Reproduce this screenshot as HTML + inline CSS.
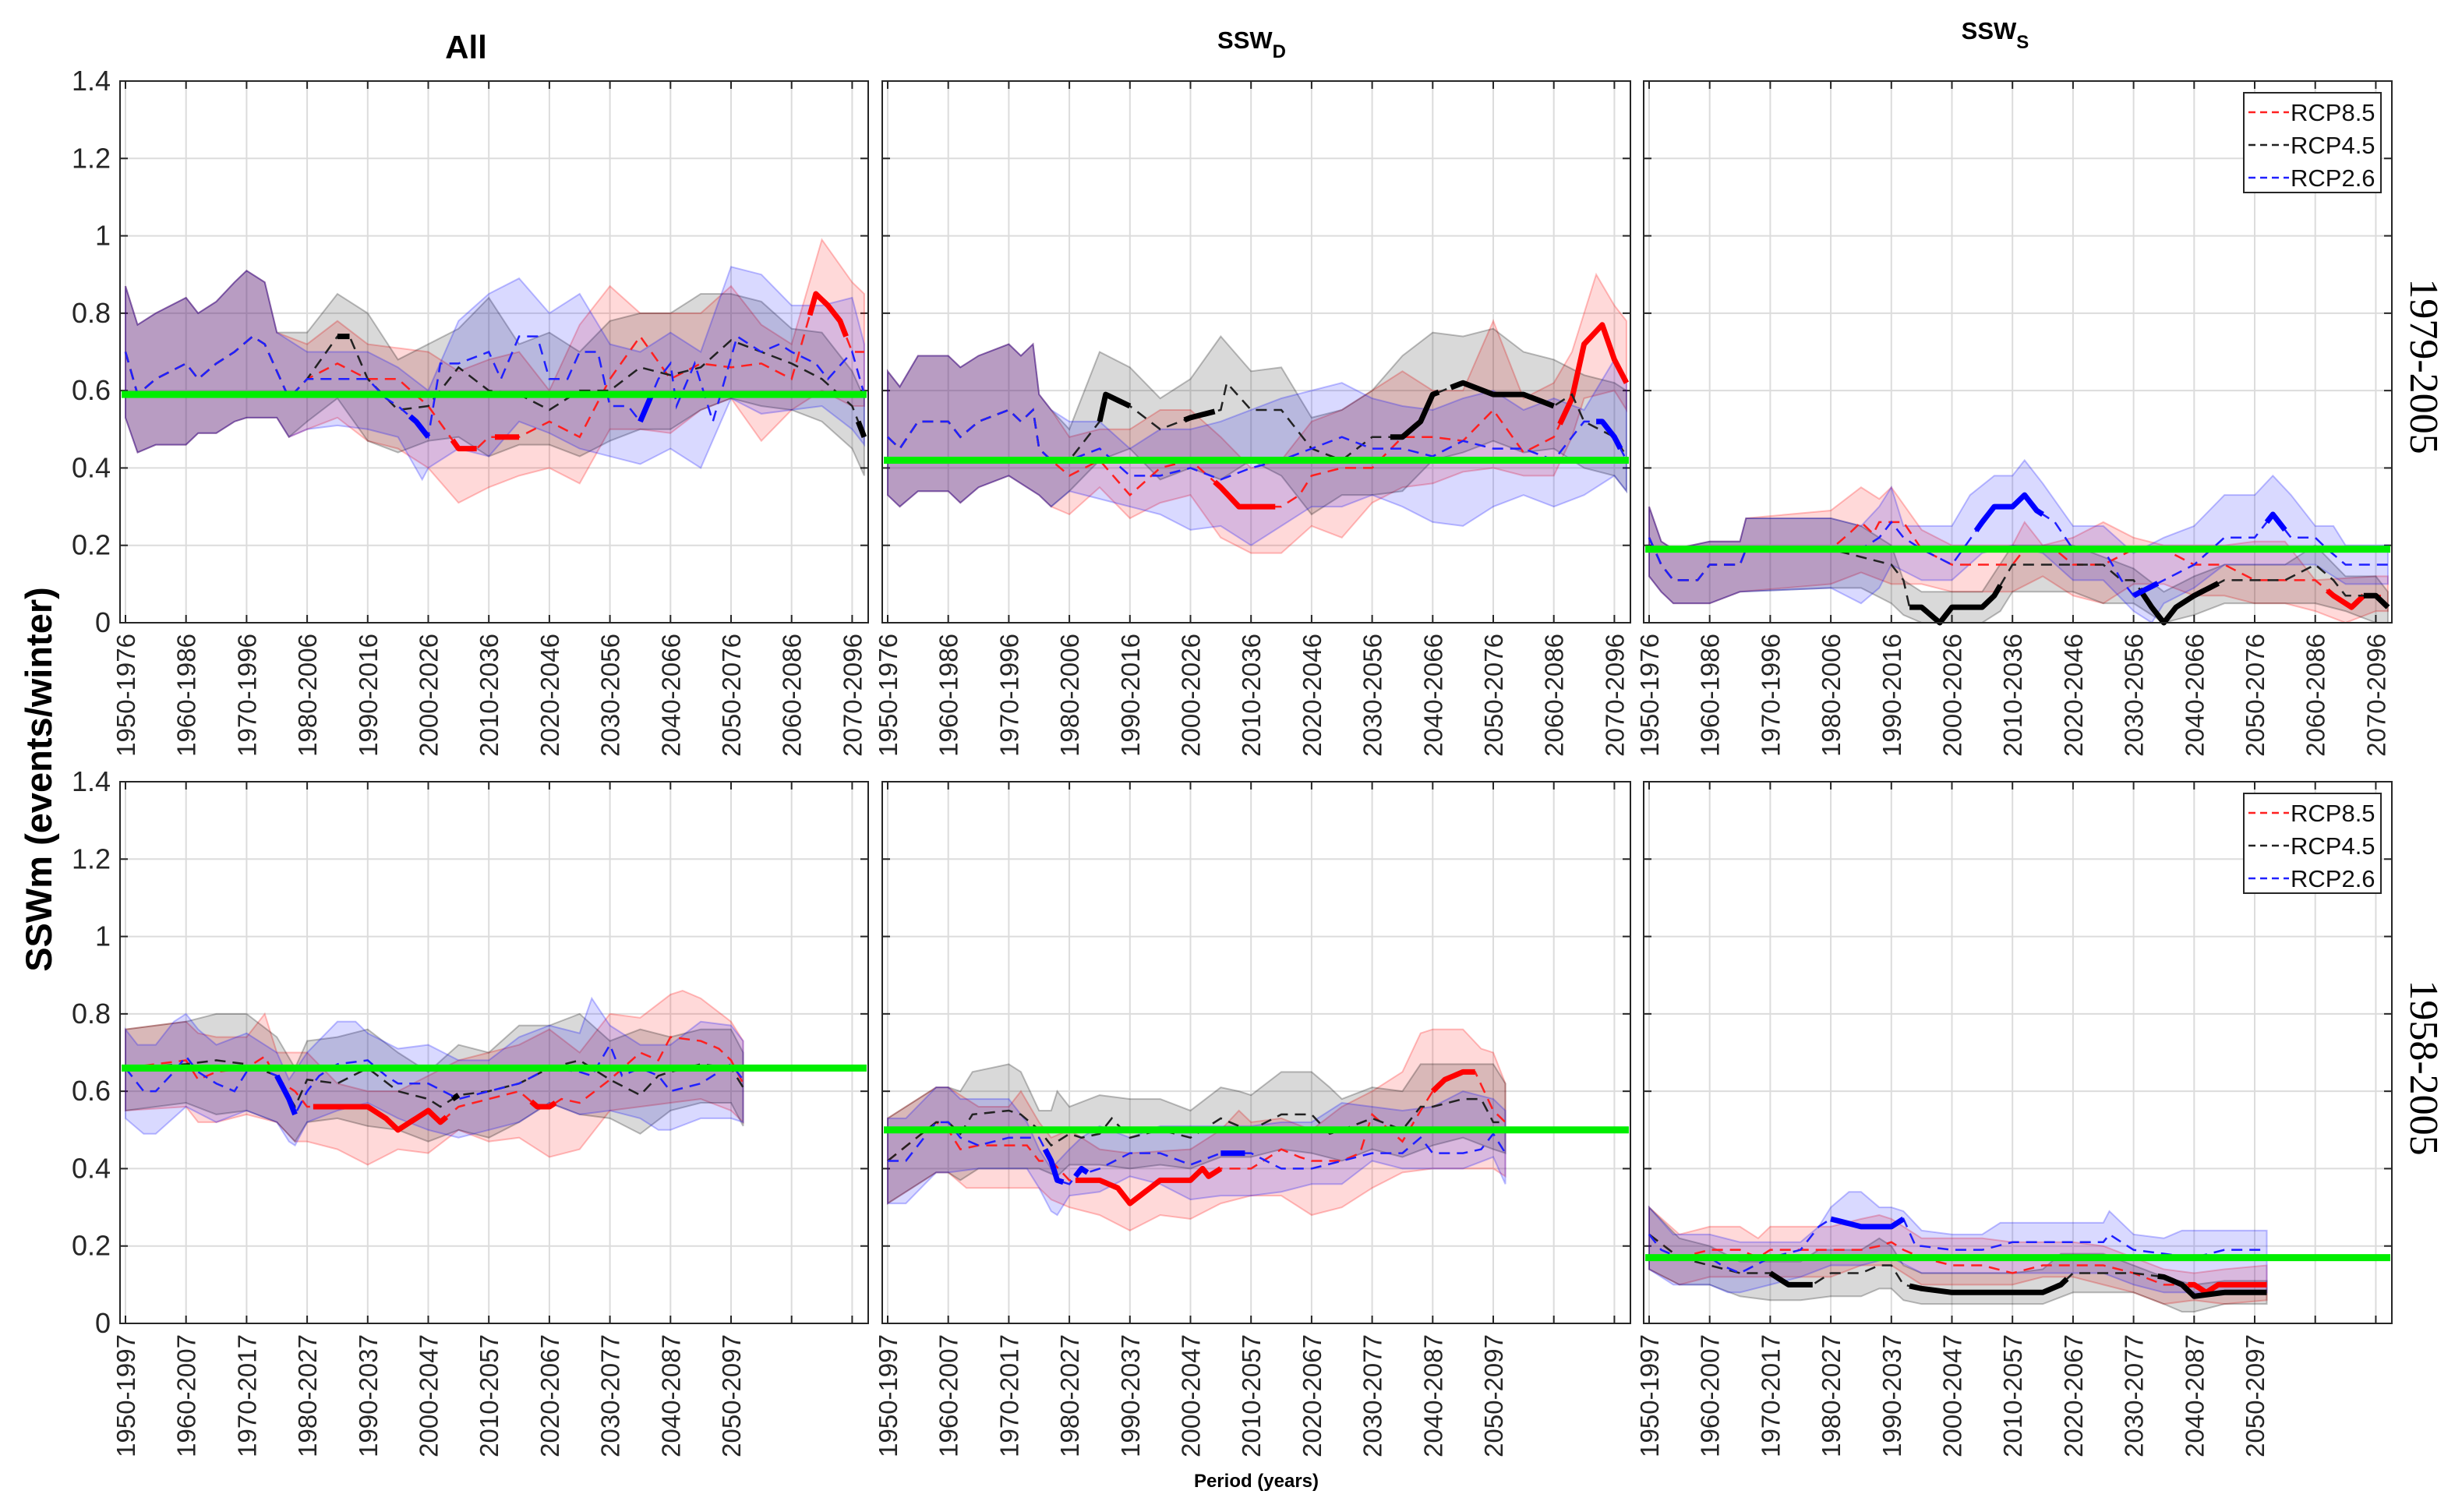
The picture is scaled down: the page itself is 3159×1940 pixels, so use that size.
<!DOCTYPE html>
<html><head><meta charset="utf-8"><style>
html,body{margin:0;padding:0;background:#fff;}
svg{display:block;font-family:"Liberation Sans",Arial,sans-serif;}
</style></head><body>
<svg id="chart" width="3159" height="1940" viewBox="0 0 3159 1940" xmlns="http://www.w3.org/2000/svg">
<rect width="3159" height="1940" fill="#fff"/>
<g id="layer"></g>
<text x="598" y="75" font-size="42" font-weight="bold" text-anchor="middle">All</text>
<text x="1606" y="62" font-size="31" font-weight="bold" text-anchor="middle">SSW<tspan font-size="24" dy="12">D</tspan></text>
<text x="2560" y="50" font-size="31" font-weight="bold" text-anchor="middle">SSW<tspan font-size="24" dy="12">S</tspan></text>
<text transform="translate(66,1000) rotate(-90)" font-size="47" font-weight="bold" text-anchor="middle">SSWm (events/winter)</text>
<text transform="translate(3093,470) rotate(90)" font-size="52" font-family="'Liberation Serif',serif" text-anchor="middle">1979-2005</text>
<text transform="translate(3093,1370) rotate(90)" font-size="52" font-family="'Liberation Serif',serif" text-anchor="middle">1958-2005</text>
<text x="1612" y="1908" font-size="24" font-weight="bold" text-anchor="middle">Period (years)</text>
</svg>
<script>
// ---- tick labels ----
const yTicks = [0,0.2,0.4,0.6,0.8,1,1.2,1.4];
const yTickLabels = ["0","0.2","0.4","0.6","0.8","1","1.2","1.4"];
const xTickIdx = [0,10,20,30,40,50,60,70,80,90,100,110,120];
const xTickLabelsTop = ["1950-1976","1960-1986","1970-1996","1980-2006","1990-2016","2000-2026","2010-2036","2020-2046","2030-2056","2040-2066","2050-2076","2060-2086","2070-2096"];
const xTickLabelsBottom = ["1950-1997","1960-2007","1970-2017","1980-2027","1990-2037","2000-2047","2010-2057","2020-2067","2030-2077","2040-2087","2050-2097"];
const refValues = [0.59,0.42,0.19,0.66,0.50,0.17];

// ---- Panel 1 (All, 1979-2005) ----
const allTopBlueMean=[[0,.70],[2,.59],[5,.63],[10,.67],[12,.63],[15,.67],[18,.70],[21,.74],[23,.72],[25,.65],[27,.58],[30,.63],[35,.63],[40,.63],[43,.58],[45,.56],[48,.52],[50,.48],[52,.67],[55,.67],[60,.70],[62,.63],[65,.74],[68,.74],[70,.63],[73,.63],[75,.70],[78,.70],[80,.56],[83,.56],[85,.52],[88,.63],[90,.67],[91,.56],[94,.67],[97,.52],[99,.63],[101,.74],[105,.70],[108,.72],[110,.70],[114,.67],[116,.63],[120,.70],[122,.59]];
const allTopBlueLo=[[0,.53],[2,.44],[5,.46],[10,.46],[12,.49],[15,.49],[18,.52],[20,.53],[25,.53],[27,.48],[30,.50],[35,.51],[40,.50],[45,.48],[49,.37],[50,.40],[55,.45],[60,.43],[65,.52],[70,.49],[75,.45],[80,.43],[85,.41],[90,.45],[95,.40],[100,.58],[105,.54],[110,.55],[115,.56],[120,.50],[122,.46]];
const allTopBlueHi=[[0,.87],[2,.77],[5,.80],[10,.84],[12,.80],[15,.83],[18,.88],[20,.91],[23,.88],[25,.75],[30,.70],[35,.70],[40,.70],[45,.66],[50,.60],[55,.78],[60,.85],[65,.89],[70,.80],[75,.85],[80,.72],[85,.70],[90,.75],[95,.70],[100,.92],[105,.90],[110,.82],[115,.82],[120,.84],[122,.72]];
const allTopRedMean=[[30,.63],[35,.67],[40,.63],[45,.63],[50,.56],[55,.45],[58,.45],[60,.48],[62,.48],[65,.48],[70,.52],[75,.48],[80,.63],[85,.74],[90,.63],[95,.67],[100,.66],[105,.67],[110,.63],[114,.85],[116,.82],[118,.78],[120,.70],[122,.70]];
const allTopRedLo=[[30,.50],[35,.53],[40,.47],[45,.45],[50,.40],[55,.31],[60,.35],[65,.38],[70,.40],[75,.36],[80,.50],[85,.50],[90,.49],[95,.55],[100,.58],[105,.47],[110,.55],[115,.60],[120,.56],[122,.56]];
const allTopRedHi=[[30,.72],[35,.78],[40,.72],[45,.71],[50,.70],[55,.65],[60,.68],[65,.70],[70,.60],[75,.77],[80,.87],[85,.80],[90,.80],[95,.80],[100,.87],[105,.77],[110,.72],[115,.99],[120,.88],[122,.85]];
const allTopBlackMean=[[30,.63],[35,.74],[37,.74],[40,.63],[45,.55],[50,.56],[55,.66],[60,.60],[65,.59],[70,.55],[75,.60],[80,.60],[85,.66],[90,.64],[95,.66],[100,.73],[105,.70],[110,.67],[115,.63],[120,.56],[122,.48]];
const allTopBlackLo=[[30,.52],[35,.58],[40,.47],[45,.44],[50,.47],[55,.48],[60,.43],[65,.46],[70,.46],[75,.43],[80,.47],[85,.50],[90,.50],[95,.55],[100,.58],[105,.56],[110,.55],[115,.52],[120,.45],[122,.38]];
const allTopBlackHi=[[30,.75],[35,.85],[40,.80],[45,.68],[50,.72],[55,.76],[60,.84],[65,.72],[70,.75],[75,.70],[80,.78],[85,.80],[90,.80],[95,.85],[100,.85],[105,.83],[110,.76],[115,.75],[120,.65],[122,.58]];
const allTopSigBlue=[[47,50],[85,87]], allTopSigRed=[[54,58],[61,65],[113,119]], allTopSigBlack=[[35,37],[121,122]];

// ---- Panel 2 (SSW_D, 1979-2005) ----
const dTopBlueMean=[[0,.48],[2,.45],[5,.52],[10,.52],[12,.48],[15,.52],[20,.55],[22,.52],[24,.55],[25,.45],[27,.42],[30,.42],[35,.45],[40,.38],[45,.38],[50,.40],[55,.37],[60,.40],[65,.42],[70,.45],[75,.48],[80,.45],[85,.45],[90,.43],[95,.47],[100,.45],[105,.45],[110,.42],[115,.52],[118,.52],[120,.48],[122,.42]];
const dTopBlueLo=[[0,.33],[2,.30],[5,.34],[10,.34],[12,.31],[15,.35],[20,.38],[25,.33],[27,.30],[30,.34],[35,.32],[40,.30],[45,.28],[50,.24],[55,.25],[60,.20],[65,.25],[70,.30],[75,.30],[80,.33],[85,.30],[90,.26],[95,.25],[100,.30],[105,.33],[110,.30],[115,.33],[120,.38],[122,.34]];
const dTopBlueHi=[[0,.65],[2,.61],[5,.69],[10,.69],[12,.66],[15,.69],[20,.72],[22,.69],[24,.72],[25,.59],[27,.55],[30,.52],[35,.52],[40,.45],[45,.50],[50,.50],[55,.52],[60,.55],[65,.58],[70,.60],[75,.62],[80,.58],[85,.56],[90,.55],[95,.58],[100,.60],[105,.55],[110,.58],[115,.55],[120,.68],[122,.62]];
const dTopRedMean=[[30,.38],[35,.42],[40,.33],[45,.40],[50,.42],[55,.35],[58,.30],[60,.30],[65,.30],[68,.33],[70,.38],[75,.40],[80,.40],[85,.48],[90,.48],[95,.47],[100,.55],[105,.44],[110,.48],[113,.58],[115,.72],[118,.77],[120,.68],[122,.62]];
const dTopRedLo=[[30,.28],[35,.35],[40,.27],[45,.31],[50,.33],[55,.22],[60,.18],[65,.18],[70,.25],[75,.22],[80,.31],[85,.35],[90,.36],[95,.39],[100,.40],[105,.38],[110,.38],[113,.48],[115,.58],[120,.60],[122,.55]];
const dTopRedHi=[[30,.48],[35,.50],[40,.50],[45,.55],[50,.55],[55,.48],[60,.40],[65,.42],[70,.52],[75,.55],[80,.60],[85,.65],[90,.60],[95,.60],[100,.78],[105,.58],[110,.62],[113,.70],[117,.90],[120,.82],[122,.78]];
const dTopBlackMean=[[30,.42],[35,.52],[36,.59],[40,.56],[45,.50],[50,.53],[55,.55],[56,.62],[60,.55],[65,.55],[70,.45],[75,.42],[80,.48],[85,.48],[88,.52],[90,.59],[95,.62],[100,.59],[105,.59],[110,.56],[113,.59],[115,.52],[120,.48],[122,.43]];
const dTopBlackLo=[[30,.34],[35,.42],[40,.45],[45,.37],[50,.40],[55,.37],[60,.42],[65,.38],[70,.28],[75,.33],[80,.33],[85,.34],[90,.42],[95,.44],[100,.47],[105,.44],[110,.45],[115,.40],[120,.38],[122,.34]];
const dTopBlackHi=[[30,.50],[35,.70],[40,.66],[45,.58],[50,.63],[55,.74],[60,.65],[65,.66],[70,.53],[75,.55],[80,.60],[85,.69],[90,.75],[95,.74],[100,.76],[105,.70],[110,.68],[115,.64],[120,.62],[122,.60]];
const dTopSigBlue=[[117,121]], dTopSigRed=[[54,64],[111,122]], dTopSigBlack=[[35,40],[49,54],[83,91],[93,110]];

// ---- Panel 3 (SSW_S, 1979-2005) ----
const sTopBlueMean=[[0,.22],[2,.15],[4,.11],[8,.11],[10,.15],[15,.15],[16,.19],[20,.19],[30,.19],[35,.19],[38,.22],[40,.26],[42,.22],[45,.19],[50,.15],[55,.26],[57,.30],[60,.30],[62,.33],[64,.29],[67,.26],[70,.19],[75,.19],[78,.11],[80,.07],[85,.11],[90,.15],[95,.22],[100,.22],[103,.28],[106,.22],[110,.22],[112,.19],[115,.15],[120,.15],[122,.15]];
const sTopBlueLo=[[0,.12],[2,.08],[4,.05],[10,.05],[15,.08],[30,.09],[35,.05],[38,.09],[40,.15],[45,.11],[50,.11],[55,.18],[60,.20],[65,.18],[70,.11],[75,.11],[80,.03],[83,0],[85,.05],[90,.09],[95,.15],[100,.15],[105,.15],[110,.15],[115,.10],[120,.10],[122,.10]];
const sTopBlueHi=[[0,.30],[2,.21],[4,.19],[10,.21],[15,.21],[16,.27],[30,.27],[35,.25],[38,.30],[40,.35],[42,.25],[45,.25],[50,.25],[53,.33],[57,.38],[60,.38],[62,.42],[65,.36],[70,.25],[75,.25],[80,.18],[85,.22],[90,.25],[95,.33],[100,.33],[103,.38],[106,.33],[110,.25],[113,.25],[115,.20],[120,.20],[122,.20]];
const sTopRedMean=[[30,.19],[33,.23],[35,.26],[37,.23],[38,.26],[42,.26],[45,.19],[50,.15],[60,.15],[62,.19],[67,.19],[70,.15],[75,.15],[80,.19],[85,.19],[90,.15],[95,.15],[100,.11],[110,.11],[113,.07],[116,.04],[118,.07],[122,.07]];
const sTopRedLo=[[30,.10],[35,.13],[40,.10],[45,.10],[50,.08],[60,.08],[65,.12],[70,.07],[75,.05],[80,.10],[85,.10],[90,.07],[95,.07],[100,.05],[105,.05],[110,.03],[115,0],[120,.03],[122,.03]];
const sTopRedHi=[[30,.29],[35,.35],[38,.32],[40,.35],[45,.24],[50,.20],[60,.20],[62,.26],[65,.20],[70,.22],[75,.26],[80,.22],[85,.20],[95,.20],[100,.21],[105,.21],[110,.11],[120,.12],[122,.12]];
const sTopBlackMean=[[30,.19],[35,.17],[40,.15],[42,.11],[43,.04],[45,.04],[48,0],[50,.04],[55,.04],[57,.07],[60,.15],[75,.15],[78,.11],[80,.11],[83,.04],[85,0],[87,.04],[90,.07],[95,.11],[105,.11],[110,.15],[113,.11],[115,.07],[120,.07],[122,.04]];
const sTopBlackLo=[[30,.09],[35,.09],[40,.05],[42,.02],[45,0],[55,0],[58,.03],[60,.08],[70,.08],[75,.05],[80,.05],[85,0],[90,.02],[95,.05],[110,.05],[115,.03],[120,0],[122,0]];
const sTopBlackHi=[[30,.27],[35,.25],[40,.20],[42,.11],[45,.08],[55,.08],[60,.20],[70,.20],[75,.17],[80,.14],[85,.08],[90,.12],[95,.15],[105,.15],[110,.20],[115,.12],[120,.12],[122,.08]];
const sTopSigBlue=[[54,65],[80,84],[102,105]], sTopSigRed=[[112,118]], sTopSigBlack=[[43,58],[81,94],[118,122]];

// ---- Panel 4 (All, 1958-2005) ----
const allBotBlueMean=[[0,.66],[3,.60],[5,.60],[8,.65],[10,.69],[12,.65],[15,.62],[18,.60],[20,.65],[22,.66],[25,.64],[27,.58],[28,.54],[30,.60],[32,.64],[35,.67],[40,.68],[43,.64],[45,.62],[50,.62],[55,.58],[60,.60],[65,.62],[70,.66],[75,.65],[77,.64],[80,.72],[82,.64],[85,.66],[88,.64],[90,.60],[95,.62],[100,.67],[102,.63]];
const allBotBlueLo=[[0,.53],[3,.49],[5,.49],[10,.56],[15,.52],[20,.55],[25,.52],[27,.47],[28,.46],[30,.52],[35,.55],[40,.57],[45,.53],[50,.50],[55,.48],[60,.50],[65,.52],[70,.57],[75,.54],[80,.55],[85,.53],[88,.50],[90,.50],[95,.53],[100,.53],[102,.52]];
const allBotBlueHi=[[0,.76],[2,.72],[5,.72],[8,.78],[10,.80],[12,.76],[15,.72],[20,.75],[25,.70],[27,.63],[30,.70],[35,.78],[38,.78],[40,.75],[45,.71],[50,.72],[55,.68],[60,.68],[65,.74],[70,.77],[75,.75],[77,.84],[80,.77],[85,.72],[90,.72],[95,.78],[100,.77],[102,.73]];
const allBotRedMean=[[0,.66],[10,.68],[12,.63],[15,.65],[20,.66],[23,.69],[25,.63],[28,.60],[30,.56],[35,.56],[40,.56],[43,.53],[45,.50],[50,.55],[52,.52],[55,.56],[60,.58],[65,.60],[68,.56],[70,.56],[72,.58],[75,.57],[80,.63],[85,.70],[88,.68],[90,.74],[95,.73],[98,.71],[100,.68],[102,.62]];
const allBotRedLo=[[0,.55],[10,.56],[12,.52],[15,.52],[20,.54],[25,.52],[28,.47],[30,.47],[35,.45],[40,.41],[45,.45],[50,.44],[55,.50],[60,.47],[65,.48],[70,.43],[75,.45],[80,.55],[85,.56],[90,.57],[95,.58],[100,.55],[102,.52]];
const allBotRedHi=[[0,.76],[10,.78],[12,.75],[15,.74],[20,.74],[23,.80],[25,.70],[30,.70],[35,.62],[40,.60],[45,.60],[50,.64],[55,.68],[60,.70],[65,.72],[70,.76],[75,.70],[80,.80],[85,.79],[90,.85],[92,.86],[95,.84],[100,.78],[102,.73]];
const allBotBlackMean=[[0,.66],[10,.67],[15,.68],[20,.67],[25,.64],[28,.56],[30,.63],[35,.62],[40,.66],[45,.60],[50,.58],[52,.56],[55,.59],[60,.60],[65,.62],[70,.66],[75,.68],[80,.63],[85,.59],[88,.64],[90,.65],[95,.67],[100,.66],[102,.61]];
const allBotBlackLo=[[0,.55],[10,.57],[15,.54],[20,.55],[25,.52],[28,.47],[30,.52],[35,.53],[40,.51],[45,.50],[50,.47],[55,.50],[60,.48],[65,.52],[70,.57],[75,.54],[80,.53],[85,.49],[90,.55],[95,.57],[100,.57],[102,.51]];
const allBotBlackHi=[[0,.76],[10,.78],[15,.80],[20,.80],[25,.74],[28,.66],[30,.73],[35,.74],[40,.76],[45,.70],[50,.65],[55,.72],[60,.70],[65,.77],[70,.77],[75,.80],[80,.73],[85,.76],[90,.74],[95,.76],[100,.76],[102,.70]];
const allBotSigBlue=[[25,28]], allBotSigRed=[[31,53],[67,71]], allBotSigBlack=[[54,55]];

// ---- Panel 5 (SSW_D, 1958-2005) ----
const dBotBlueMean=[[0,.42],[3,.42],[8,.52],[10,.52],[12,.48],[15,.46],[20,.48],[25,.48],[27,.42],[28,.37],[30,.36],[32,.40],[33,.39],[35,.40],[40,.44],[45,.44],[50,.41],[55,.44],[60,.44],[65,.40],[70,.40],[75,.42],[80,.44],[85,.44],[88,.48],[90,.44],[95,.44],[98,.45],[100,.49],[102,.44]];
const dBotBlueLo=[[0,.31],[3,.31],[8,.39],[10,.39],[15,.40],[20,.40],[23,.40],[25,.35],[27,.29],[28,.28],[30,.33],[35,.34],[40,.38],[45,.36],[50,.32],[55,.33],[60,.33],[65,.34],[70,.36],[75,.36],[80,.42],[85,.40],[90,.40],[95,.40],[100,.43],[102,.36]];
const dBotBlueHi=[[0,.53],[3,.53],[8,.61],[10,.61],[12,.58],[15,.58],[20,.58],[23,.52],[25,.45],[27,.40],[30,.45],[32,.48],[35,.51],[40,.48],[45,.51],[60,.51],[65,.52],[70,.52],[75,.57],[80,.56],[85,.55],[90,.56],[95,.60],[100,.58],[102,.55]];
const dBotRedMean=[[0,.42],[8,.52],[10,.50],[12,.45],[15,.46],[23,.46],[25,.42],[27,.42],[30,.37],[35,.37],[38,.35],[40,.31],[45,.37],[50,.37],[52,.40],[53,.38],[55,.40],[60,.40],[65,.45],[68,.43],[70,.42],[75,.42],[78,.44],[80,.54],[85,.47],[88,.55],[90,.60],[92,.63],[95,.65],[97,.65],[100,.55],[102,.52]];
const dBotRedLo=[[0,.31],[8,.39],[10,.39],[13,.35],[25,.35],[27,.32],[30,.30],[35,.28],[40,.24],[45,.28],[50,.27],[55,.31],[60,.33],[65,.33],[70,.28],[75,.30],[80,.35],[85,.39],[90,.40],[100,.40],[102,.38]];
const dBotRedHi=[[0,.53],[8,.61],[10,.61],[15,.56],[20,.56],[22,.60],[25,.52],[27,.48],[30,.50],[35,.45],[40,.44],[50,.45],[55,.50],[58,.55],[60,.52],[65,.53],[70,.50],[75,.56],[80,.60],[85,.65],[88,.75],[90,.76],[95,.76],[98,.71],[100,.70],[102,.62]];
const dBotBlackMean=[[0,.42],[8,.52],[10,.52],[12,.49],[14,.54],[20,.55],[22,.54],[25,.50],[27,.46],[30,.49],[32,.48],[35,.49],[37,.53],[40,.48],[45,.50],[50,.48],[55,.53],[58,.51],[60,.50],[65,.54],[70,.54],[73,.49],[75,.50],[80,.53],[85,.50],[88,.56],[90,.56],[95,.58],[98,.58],[100,.52],[102,.52]];
const dBotBlackLo=[[0,.31],[8,.39],[10,.39],[12,.37],[15,.40],[25,.40],[28,.38],[30,.41],[35,.41],[40,.40],[45,.41],[50,.40],[55,.43],[60,.43],[65,.45],[70,.44],[75,.42],[80,.45],[85,.43],[90,.46],[95,.48],[100,.45],[102,.44]];
const dBotBlackHi=[[0,.53],[8,.61],[10,.61],[12,.60],[14,.65],[20,.67],[22,.65],[25,.55],[27,.55],[28,.60],[30,.56],[35,.59],[40,.58],[45,.58],[50,.55],[55,.61],[58,.60],[60,.59],[65,.65],[70,.65],[73,.61],[75,.58],[80,.61],[85,.60],[88,.67],[100,.67],[102,.62]];
const dBotSigBlue=[[26,29],[31,33],[55,59]], dBotSigRed=[[31,55],[90,97]], dBotSigBlack=[];

// ---- Panel 6 (SSW_S, 1958-2005) ----
const sBotBlueMean=[[0,.23],[2,.19],[5,.17],[10,.17],[12,.15],[15,.13],[20,.17],[25,.19],[28,.25],[30,.27],[35,.25],[40,.25],[42,.27],[44,.20],[45,.20],[50,.19],[55,.19],[60,.21],[75,.21],[76,.23],[78,.21],[80,.19],[90,.17],[95,.19],[102,.19]];
const sBotBlueLo=[[0,.14],[4,.10],[10,.10],[13,.08],[15,.08],[20,.10],[25,.12],[30,.15],[35,.15],[40,.17],[45,.13],[75,.13],[80,.10],[85,.08],[102,.08]];
const sBotBlueHi=[[0,.30],[4,.23],[10,.23],[15,.21],[25,.21],[28,.25],[30,.30],[33,.34],[35,.34],[38,.30],[40,.30],[42,.29],[45,.24],[50,.23],[55,.23],[58,.26],[75,.26],[76,.29],[78,.26],[80,.23],[85,.22],[88,.24],[102,.24]];
const sBotRedMean=[[0,.23],[5,.17],[10,.19],[15,.19],[18,.17],[20,.19],[35,.19],[38,.20],[40,.21],[42,.19],[45,.17],[50,.15],[55,.15],[60,.13],[65,.15],[75,.15],[80,.13],[85,.10],[90,.10],[92,.08],[94,.10],[102,.10]];
const sBotRedLo=[[0,.14],[5,.10],[10,.12],[30,.12],[35,.15],[40,.15],[45,.10],[60,.10],[65,.12],[70,.12],[75,.10],[80,.08],[85,.05],[90,.06],[95,.05],[102,.06]];
const sBotRedHi=[[0,.30],[5,.23],[10,.25],[15,.25],[18,.22],[20,.25],[30,.25],[35,.27],[38,.28],[40,.27],[45,.22],[55,.22],[60,.21],[70,.21],[75,.20],[80,.17],[85,.14],[90,.13],[95,.14],[102,.15]];
const sBotBlackMean=[[0,.23],[5,.17],[10,.15],[15,.13],[20,.13],[23,.10],[27,.10],[30,.13],[35,.13],[38,.15],[40,.15],[42,.10],[45,.09],[50,.08],[65,.08],[68,.10],[70,.13],[80,.13],[85,.12],[88,.10],[90,.07],[95,.08],[102,.08]];
const sBotBlackLo=[[0,.14],[5,.10],[10,.10],[15,.07],[20,.06],[25,.06],[30,.07],[35,.07],[38,.09],[40,.09],[42,.06],[45,.05],[65,.05],[70,.08],[80,.08],[85,.05],[88,.03],[90,.03],[95,.05],[102,.05]];
const sBotBlackHi=[[0,.30],[5,.22],[10,.20],[15,.16],[25,.16],[28,.19],[35,.19],[38,.22],[40,.20],[42,.15],[45,.13],[60,.13],[65,.14],[68,.18],[75,.18],[80,.15],[85,.12],[90,.10],[95,.11],[102,.11]];
const sBotSigBlue=[[30,42]], sBotSigRed=[[89,102]], sBotSigBlack=[[20,27],[43,69],[84,102]];

const NS="http://www.w3.org/2000/svg";
const layer=document.getElementById('layer');
const XMIN=-0.9, XMAX=122.65, PW=960;
const panelLefts=[154,1132,2109];
const rowBottoms=[799,1698], PH=695;

function mk(tag,attrs,parent){const e=document.createElementNS(NS,tag);for(const k in attrs)e.setAttribute(k,attrs[k]);(parent||layer).appendChild(e);return e;}
function interp(arr,i){for(let k=0;k<arr.length-1;k++){if(i>=arr[k][0]&&i<=arr[k+1][0]){const t=(i-arr[k][0])/((arr[k+1][0]-arr[k][0])||1);return arr[k][1]+t*(arr[k+1][1]-arr[k][1]);}}return arr[arr.length-1][1];}

const panelDefs=[
 {col:0,row:0,early:true,blue:[allTopBlueMean,allTopBlueLo,allTopBlueHi,allTopSigBlue],red:[allTopRedMean,allTopRedLo,allTopRedHi,allTopSigRed],black:[allTopBlackMean,allTopBlackLo,allTopBlackHi,allTopSigBlack],name:'all-1979'},
 {col:1,row:0,early:true,blue:[dTopBlueMean,dTopBlueLo,dTopBlueHi,dTopSigBlue],red:[dTopRedMean,dTopRedLo,dTopRedHi,dTopSigRed],black:[dTopBlackMean,dTopBlackLo,dTopBlackHi,dTopSigBlack],name:'sswd-1979'},
 {col:2,row:0,early:true,blue:[sTopBlueMean,sTopBlueLo,sTopBlueHi,sTopSigBlue],red:[sTopRedMean,sTopRedLo,sTopRedHi,sTopSigRed],black:[sTopBlackMean,sTopBlackLo,sTopBlackHi,sTopSigBlack],name:'ssws-1979',legend:true},
 {col:0,row:1,early:false,blue:[allBotBlueMean,allBotBlueLo,allBotBlueHi,allBotSigBlue],red:[allBotRedMean,allBotRedLo,allBotRedHi,allBotSigRed],black:[allBotBlackMean,allBotBlackLo,allBotBlackHi,allBotSigBlack],name:'all-1958'},
 {col:1,row:1,early:false,blue:[dBotBlueMean,dBotBlueLo,dBotBlueHi,dBotSigBlue],red:[dBotRedMean,dBotRedLo,dBotRedHi,dBotSigRed],black:[dBotBlackMean,dBotBlackLo,dBotBlackHi,dBotSigBlack],name:'sswd-1958'},
 {col:2,row:1,early:false,blue:[sBotBlueMean,sBotBlueLo,sBotBlueHi,sBotSigBlue],red:[sBotRedMean,sBotRedLo,sBotRedHi,sBotSigRed],black:[sBotBlackMean,sBotBlackLo,sBotBlackHi,sBotSigBlack],name:'ssws-1958',legend:true}
];
const colors={red:['#ff0000','#ff2020'],black:['#000000','#222222'],blue:['#0000ff','#2020ff']};

panelDefs.forEach((p,pi)=>{
  const L=panelLefts[p.col], B=rowBottoms[p.row], T=B-PH;
  const xs=i=>L+(i-XMIN)/(XMAX-XMIN)*PW;
  const ys=v=>B-v/1.4*PH;
  const g=mk('g',{});
  
  
  xTickIdx.forEach(i=>{const l=mk('line',{x1:xs(i),x2:xs(i),y1:T,y2:B,stroke:'#dcdcdc','stroke-width':2},g);
    mk('line',{x1:xs(i),x2:xs(i),y1:T,y2:T+10,stroke:'#262626','stroke-width':2},g);mk('line',{x1:xs(i),x2:xs(i),y1:B,y2:B-10,stroke:'#262626','stroke-width':2},g);});
  yTicks.forEach(v=>{const l=mk('line',{x1:L,x2:L+PW,y1:ys(v),y2:ys(v),stroke:'#dcdcdc','stroke-width':2},g);
    mk('line',{x1:L,x2:L+10,y1:ys(v),y2:ys(v),stroke:'#262626','stroke-width':2},g);mk('line',{x1:L+PW-10,x2:L+PW,y1:ys(v),y2:ys(v),stroke:'#262626','stroke-width':2},g);});
  if(p.col===0){yTickLabels.forEach((s,k)=>{const t=mk('text',{x:L-12,y:ys(yTicks[k])+12,'font-size':36,'text-anchor':'end',fill:'#262626'},g);t.textContent=s;});}
  const labs=p.row===0?xTickLabelsTop:xTickLabelsBottom;
  labs.forEach((s,k)=>{const x=xs(xTickIdx[k])+12;const y=B+14;const t=mk('text',{transform:`translate(${x},${y}) rotate(-90)`,'font-size':33,'text-anchor':'end',fill:'#262626'},g);t.textContent=s;});
  ['red','black','blue'].forEach(sn=>{
    let [mean,lo,hi,sig]=p[sn];
    if(p.early&&sn!=='blue'){const bm=p.blue;mean=bm[0].filter(d=>d[0]<mean[0][0]).concat(mean);lo=bm[1].filter(d=>d[0]<lo[0][0]).concat(lo);hi=bm[2].filter(d=>d[0]<hi[0][0]).concat(hi);}
    const c=colors[sn][0];
    const pts=hi.map(d=>xs(d[0])+','+ys(d[1])).concat(lo.slice().reverse().map(d=>xs(d[0])+','+ys(d[1])));
    const band=mk('polygon',{points:pts.join(' '),fill:c,'fill-opacity':0.15,stroke:c,'stroke-opacity':0.25,'stroke-width':2},g);
    
    
  });
  ['red','black','blue'].forEach(sn=>{
    let [mean,lo,hi,sig]=p[sn];
    if(p.early&&sn!=='blue'){mean=p.blue[0].filter(d=>d[0]<mean[0][0]).concat(mean);}
    const c=colors[sn][1];
    const line=mk('polyline',{points:mean.map(d=>xs(d[0])+','+ys(d[1])).join(' '),fill:'none',stroke:c,'stroke-width':2.5,'stroke-dasharray':'14 9'},g);
    
    
    sig.forEach(r=>{const pp=[];for(let i=r[0];i<=r[1];i+=0.5)pp.push(xs(i)+','+ys(interp(mean,i)));
      const s=mk('polyline',{points:pp.join(' '),fill:'none',stroke:colors[sn][0],'stroke-width':7,'stroke-linejoin':'round'},g);
      
      });
  });
  const ref=mk('line',{x1:L+2,x2:L+PW-2,y1:ys(refValues[pi]),y2:ys(refValues[pi]),stroke:'#00ee00','stroke-width':9},g);
  
  
  const box=mk('rect',{x:L,y:T,width:PW,height:PH,fill:'none',stroke:'#262626','stroke-width':2},g);
  
  
  if(p.legend){
    const lx=L+PW-190, ly=T+15;
    const lg=mk('g',{},g);
    
    
    mk('rect',{x:lx,y:ly,width:176,height:128,fill:'#fff',stroke:'#262626','stroke-width':2},lg);
    [['RCP8.5','#ff2020'],['RCP4.5','#222'],['RCP2.6','#2020ff']].forEach((e,k)=>{
      const yy=ly+25+k*42;
      const ent=mk('g',{},lg);
      
      
      mk('line',{x1:lx+6,x2:lx+58,y1:yy,y2:yy,stroke:e[1],'stroke-width':2.5,'stroke-dasharray':'9 6'},ent);
      const t=mk('text',{x:lx+60,y:yy+11,'font-size':31,fill:'#111'},ent);t.textContent=e[0];
    });
  }
});
</script>
</body></html>
